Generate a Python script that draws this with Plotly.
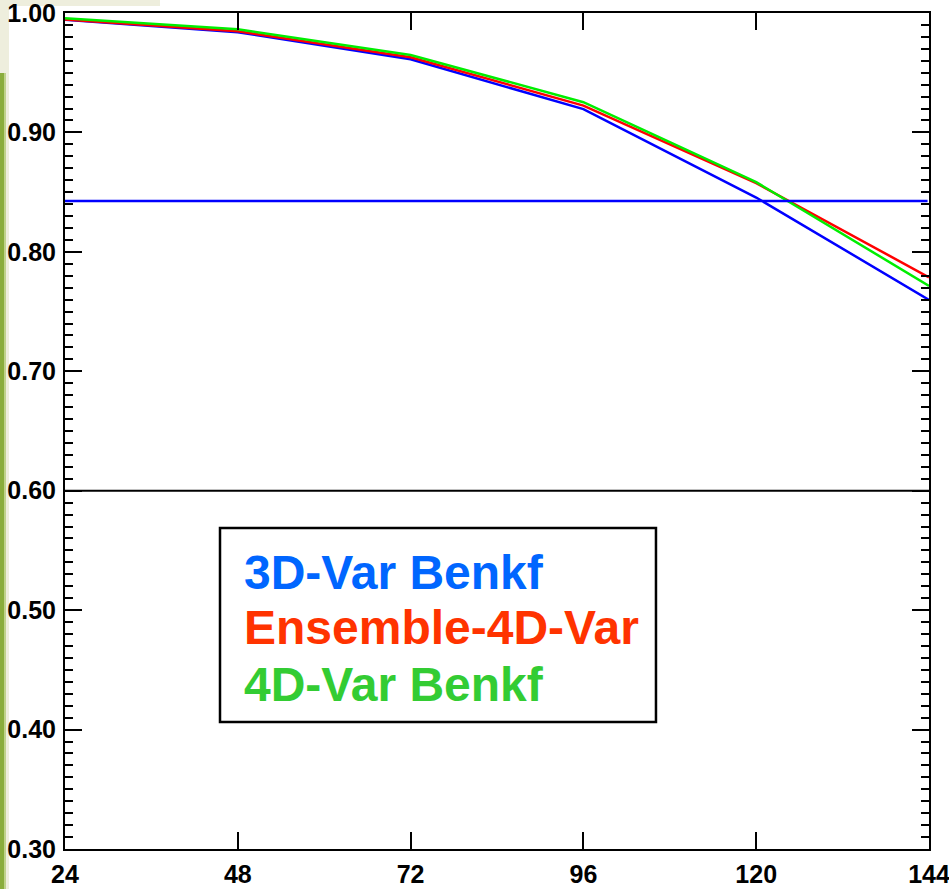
import plotly.graph_objects as go

# Forecast lead time (hours) and anomaly correlation for each system
lead_hours = [24, 48, 72, 96, 120, 144]
var3d_benkf = [0.9943, 0.9839, 0.9613, 0.9195, 0.8455, 0.7598]
ens_4dvar = [0.9946, 0.9847, 0.9630, 0.9225, 0.8575, 0.7787]
var4d_benkf = [0.9957, 0.9864, 0.9649, 0.9253, 0.8584, 0.7715]

# Reference levels
ref_level_blue = 0.8426
ref_level_black = 0.60

x_ticks = [24, 48, 72, 96, 120, 144]
y_ticks = [0.30, 0.40, 0.50, 0.60, 0.70, 0.80, 0.90, 1.00]
y_tick_text = ["0.30", "0.40", "0.50", "0.60", "0.70", "0.80", "0.90", "1.00"]

legend_labels = ["3D-Var Benkf", "Ensemble-4D-Var", "4D-Var Benkf"]
legend_colors = ["#0066ff", "#ff3300", "#33cc33"]
line_colors = ["#0000ff", "#ff0000", "#00ee00"]

tick_font = dict(family="Liberation Sans, Arial", size=25, color="black", weight="bold")

fig = go.Figure()

for series, color in zip([var3d_benkf, ens_4dvar, var4d_benkf], line_colors):
    fig.add_trace(go.Scatter(x=lead_hours, y=series, mode="lines",
                             line=dict(color=color, width=2.5), showlegend=False,
                             hoverinfo="skip"))

fig.add_trace(go.Scatter(x=[lead_hours[0], lead_hours[-1] - 0.2],
                         y=[ref_level_blue, ref_level_blue], mode="lines",
                         line=dict(color="#0000ff", width=2.5), showlegend=False,
                         hoverinfo="skip"))

fig.add_shape(type="line", xref="paper", yref="y", x0=0, x1=1,
              y0=ref_level_black, y1=ref_level_black,
              line=dict(color="black", width=2))

# Slide decoration at the left and top-left edges
fig.add_shape(type="rect", xref="paper", yref="paper", xsizemode="pixel",
              ysizemode="pixel", xanchor=0, yanchor=1, x0=-65, x1=-56,
              y0=13, y1=-900, fillcolor="#eeeedd", line=dict(width=0), layer="below")
fig.add_shape(type="rect", xref="paper", yref="paper", xsizemode="pixel",
              ysizemode="pixel", xanchor=0, yanchor=1, x0=-65, x1=95,
              y0=13, y1=7, fillcolor="#eeeedd", line=dict(width=0), layer="below")
fig.add_shape(type="rect", xref="paper", yref="paper", xsizemode="pixel",
              ysizemode="pixel", xanchor=0, yanchor=1, x0=-65, x1=-59,
              y0=-60, y1=-900, fillcolor="#bfd28a", line=dict(width=0), layer="below")
fig.add_shape(type="rect", xref="paper", yref="paper", xsizemode="pixel",
              ysizemode="pixel", xanchor=0, yanchor=1, x0=-65, x1=-61,
              y0=-60, y1=-900, fillcolor="#8aad3c", line=dict(width=0), layer="below")

# Key box with coloured labels
fig.add_shape(type="rect", xref="paper", yref="paper",
              x0=0.1794, x1=0.684, y0=0.152, y1=0.384,
              line=dict(color="black", width=2.5), fillcolor="white")
for i, (label, color) in enumerate(zip(legend_labels, legend_colors)):
    fig.add_annotation(xref="paper", yref="paper", x=0.2049,
                       y=[0.3313, 0.2644, 0.1962][i], xanchor="left", yanchor="middle",
                       text=label, showarrow=False,
                       font=dict(family="Liberation Sans, Arial", size=48,
                                 color=color, weight="bold"))

axis_common = dict(showline=True, linecolor="black", linewidth=2, mirror="ticks",
                   ticks="inside", tickcolor="black", tickwidth=2, ticklen=17,
                   showgrid=False, zeroline=False, tickfont=tick_font,
                   automargin=False, ticklabeloverflow="allow")

fig.update_xaxes(range=[24, 144], tickvals=x_ticks, ticklabelstandoff=2, **axis_common)
fig.update_yaxes(range=[0.30, 1.00], tickvals=y_ticks, ticktext=y_tick_text,
                 ticklabelstandoff=2,
                 minor=dict(ticks="inside", ticklen=8, tickwidth=2, tickcolor="black",
                            dtick=0.01, showgrid=False),
                 **axis_common)

fig.update_layout(width=949, height=889, margin=dict(l=65, r=20, t=13, b=40),
                  paper_bgcolor="white", plot_bgcolor="white")

fig.write_html("out.html")
